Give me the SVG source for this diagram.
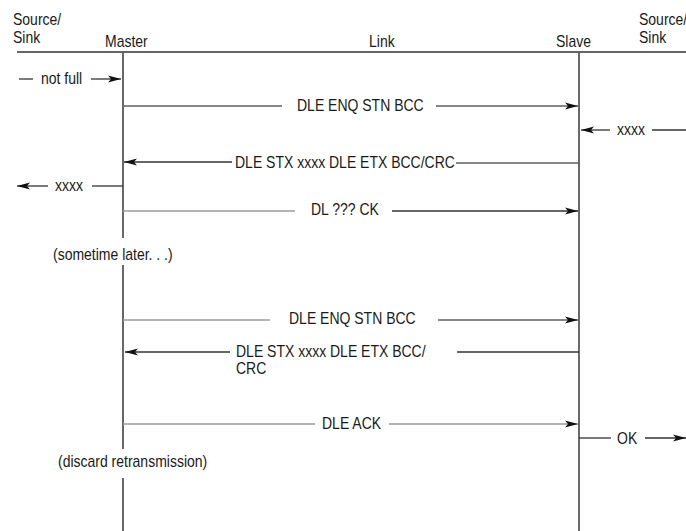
<svg xmlns="http://www.w3.org/2000/svg" width="686" height="531" viewBox="0 0 686 531">
<style>
.t{font-family:"Liberation Sans",Arial,sans-serif;font-size:16px;fill:#1a1a1a}
.life{stroke:#2a2a2a;stroke-width:1.4;fill:none}
.dk{stroke:#333;stroke-width:1.3;fill:none}
.md{stroke:#5e5e5e;stroke-width:1.4;fill:none}
.lt{stroke:#9a9a9a;stroke-width:1.6;fill:none}
</style>
<defs>
<marker id="ah" markerUnits="userSpaceOnUse" markerWidth="13" markerHeight="8" viewBox="0 0 13 8" refX="13" refY="4" orient="auto">
<path d="M0,0.5 L13,4 L0,7.5 L3,4 z" fill="#111"/>
</marker>
</defs>
<rect width="686" height="531" fill="#fff"/>

<line x1="17" y1="52" x2="686" y2="52" stroke="#333" stroke-width="1.5"/>

<g id="source-sink-left">
<text class="t" transform="translate(13 25) scale(0.875 1)">Source/</text>
<text class="t" transform="translate(13 42.5) scale(0.875 1)">Sink</text>
</g>
<g id="master">
<text class="t" transform="translate(105 46.5) scale(0.875 1)">Master</text>
<path class="life" d="M123,53 V238 M123,265 V449 M123,478 V531"/>
</g>
<g id="link">
<text class="t" transform="translate(369 46.5) scale(0.875 1)">Link</text>
</g>
<g id="slave">
<text class="t" transform="translate(556 46.5) scale(0.875 1)">Slave</text>
<path class="life" d="M579,53 V531"/>
</g>
<g id="source-sink-right">
<text class="t" transform="translate(639 25) scale(0.875 1)">Source/</text>
<text class="t" transform="translate(639 42.5) scale(0.875 1)">Sink</text>
</g>

<g id="connectors">
<!-- not full -->
<line class="dk" x1="19" y1="79" x2="33" y2="79"/>
<line class="dk" x1="91" y1="79" x2="121" y2="79" marker-end="url(#ah)"/>
<!-- DLE ENQ STN BCC -->
<line class="md" x1="123" y1="106" x2="282" y2="106"/>
<line class="md" x1="436" y1="106" x2="578" y2="106" marker-end="url(#ah)"/>
<!-- xxxx right -->
<line class="dk" x1="610" y1="130" x2="581" y2="130" marker-end="url(#ah)"/>
<line class="dk" x1="652" y1="130" x2="686" y2="130"/>
<!-- DLE STX ... CRC -->
<line class="md" x1="579" y1="163" x2="456" y2="163"/>
<line class="dk" x1="232" y1="162" x2="124" y2="162" marker-end="url(#ah)"/>
<!-- xxxx left -->
<line class="dk" x1="123" y1="186" x2="92" y2="186"/>
<line class="dk" x1="48" y1="186" x2="17" y2="186" marker-end="url(#ah)"/>
<!-- DL ??? CK -->
<line class="lt" x1="123" y1="211" x2="295" y2="211"/>
<line class="dk" x1="392" y1="211" x2="578" y2="211" marker-end="url(#ah)"/>
<!-- DLE ENQ STN BCC (2) -->
<line class="lt" x1="123" y1="320" x2="270" y2="320"/>
<line class="md" x1="438" y1="320" x2="578" y2="320" marker-end="url(#ah)"/>
<!-- DLE STX ... BCC/ CRC (2) -->
<line class="dk" x1="579" y1="352" x2="457" y2="352"/>
<line class="dk" x1="230" y1="352" x2="125" y2="352" marker-end="url(#ah)"/>
<!-- DLE ACK -->
<line class="lt" x1="123" y1="424" x2="315" y2="424"/>
<line class="lt" x1="389" y1="424" x2="578" y2="424" marker-end="url(#ah)"/>
<!-- OK -->
<line class="dk" x1="579" y1="438" x2="611" y2="438"/>
<line class="dk" x1="645" y1="438" x2="686" y2="438" marker-end="url(#ah)"/>
</g>

<g id="labels">
<text class="t" transform="translate(41 84) scale(0.875 1)">not full</text>
<text class="t" transform="translate(297 110.5) scale(0.875 1)">DLE ENQ STN BCC</text>
<text class="t" transform="translate(617 135) scale(0.875 1)">xxxx</text>
<text class="t" transform="translate(235 167.5) scale(0.875 1)">DLE STX xxxx DLE ETX BCC/CRC</text>
<text class="t" transform="translate(55 190.5) scale(0.875 1)">xxxx</text>
<text class="t" transform="translate(311 215) scale(0.875 1)">DL ??? CK</text>
<text class="t" transform="translate(53 260) scale(0.875 1)">(sometime later. . .)</text>
<text class="t" transform="translate(289 323.5) scale(0.875 1)">DLE ENQ STN BCC</text>
<text class="t" transform="translate(236 357) scale(0.875 1)">DLE STX xxxx DLE ETX BCC/</text>
<text class="t" transform="translate(236 374) scale(0.875 1)">CRC</text>
<text class="t" transform="translate(322 428.5) scale(0.875 1)">DLE ACK</text>
<text class="t" transform="translate(617 443.5) scale(0.875 1)">OK</text>
<text class="t" transform="translate(58 467) scale(0.875 1)">(discard retransmission)</text>
</g>
</svg>
